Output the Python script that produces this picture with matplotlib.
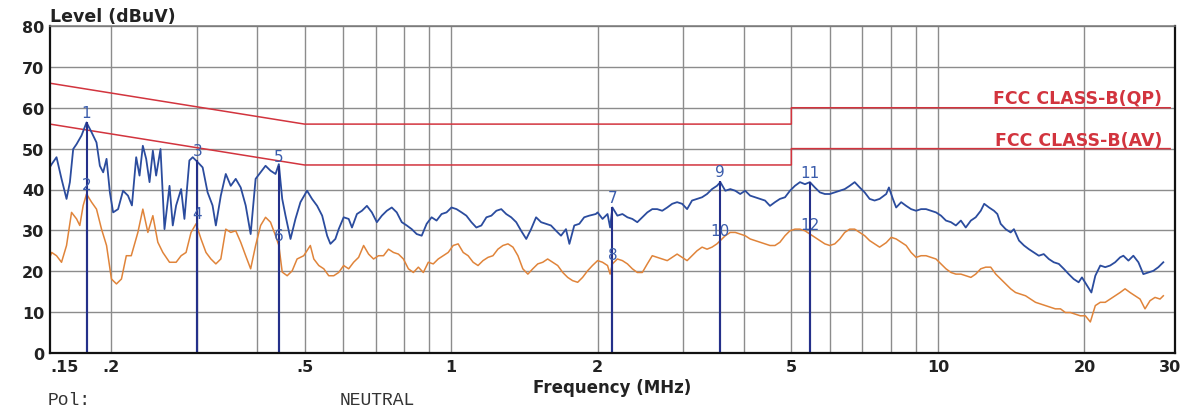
import matplotlib

matplotlib.use("Agg")
import matplotlib.pyplot as plt

# Peak-scan trace (blue)
BLUE_MHZ = [
    0.150, 0.1512, 0.1547, 0.1584, 0.1622, 0.1648, 0.1674, 0.1701, 0.1741, 0.1783,
    0.1826, 0.1869, 0.1899, 0.1929, 0.1960, 0.1991, 0.2022, 0.2070, 0.2119, 0.2169,
    0.2210, 0.2255, 0.2291, 0.2327, 0.2364, 0.2402, 0.2440, 0.2478, 0.2530, 0.2578,
    0.2640, 0.2681, 0.2724, 0.2789, 0.2833, 0.2900, 0.2946, 0.3016, 0.3088, 0.3161,
    0.3236, 0.3287, 0.3365, 0.3445, 0.3527, 0.3611, 0.3697, 0.3785, 0.3875, 0.3967,
    0.4062, 0.4158, 0.4257, 0.4359, 0.4428, 0.4499, 0.4570, 0.4679, 0.4790, 0.4904,
    0.5060, 0.5180,
    0.5307, 0.5435, 0.5564, 0.5651, 0.5785, 0.5877, 0.6017, 0.6161, 0.6258, 0.6406,
    0.6560, 0.6716, 0.6876, 0.7039, 0.7208, 0.7379, 0.7554, 0.7734, 0.7920, 0.8109,
    0.8302, 0.8499, 0.8703, 0.8909, 0.9120, 0.9337, 0.9561, 0.9788, 1.002, 1.026,
    1.051, 1.075, 1.101, 1.127, 1.154, 1.182, 1.210, 1.239, 1.268, 1.298,
    1.329, 1.361, 1.393, 1.427, 1.460, 1.495, 1.531, 1.567, 1.604, 1.643,
    1.682, 1.722, 1.750, 1.791, 1.834, 1.877, 1.922, 1.983,
    2.000, 2.047, 2.096, 2.122, 2.145, 2.196, 2.249, 2.303, 2.357, 2.413,
    2.471, 2.530, 2.590, 2.651, 2.715, 2.780, 2.846, 2.913, 2.983, 3.054,
    3.126, 3.200, 3.278, 3.356, 3.436, 3.517, 3.574, 3.659, 3.746, 3.835,
    3.926, 4.019, 4.115, 4.212, 4.313, 4.415, 4.520, 4.628, 4.738, 4.853,
    4.968, 5.086, 5.209, 5.333, 5.459, 5.589, 5.723, 5.859, 5.998, 6.141,
    6.288, 6.437, 6.590, 6.747, 6.909, 7.073, 7.241, 7.413, 7.591,
    7.833, 7.933, 8.083, 8.210, 8.407, 8.607, 8.810, 9.020, 9.237, 9.456,
    9.681, 9.911, 10.15, 10.39, 10.64, 10.89, 11.15, 11.41, 11.69, 11.96,
    12.25, 12.45, 12.74, 13.04, 13.25, 13.46, 13.78, 14.11, 14.33, 14.68,
    15.03, 15.38, 15.75, 16.12, 16.50, 16.90, 17.30, 17.72, 18.14, 18.57,
    19.01, 19.46, 19.77, 20.25, 20.67, 21.06, 21.56, 22.07, 22.59, 23.13,
    23.68, 24.05, 24.63, 25.21, 25.82, 26.43, 27.06, 27.71, 28.38, 29.05,
]
BLUE_DBUV = [
    45.5, 46.2, 47.9, 42.6, 37.7, 41.8, 49.9, 51.1, 53.2, 56.4,
    54.0, 51.5, 45.8, 44.2, 47.5, 39.3, 34.4, 35.2, 39.7, 38.5,
    36.1, 47.9, 43.4, 50.7, 47.5, 41.8, 49.5, 43.4, 49.9, 30.3,
    40.9, 31.2, 36.1, 40.1, 32.8, 47.1, 47.9, 46.7, 45.4, 39.3,
    36.1, 31.2, 38.5, 43.8, 40.9, 42.6, 40.5, 36.1, 29.1, 42.6,
    44.2, 45.8, 44.6, 43.8, 46.2, 37.7, 33.6, 27.9, 32.8, 36.9,
    39.7, 37.7,
    36.0, 33.6, 28.7, 26.7, 27.9, 30.3, 33.2, 32.8, 30.7, 34.0,
    34.8, 36.0, 34.4, 32.0, 33.6, 34.8, 35.6, 34.4, 32.0, 31.2,
    30.3, 29.1, 28.7, 31.6, 33.2, 32.4, 34.0, 34.4, 35.6, 35.2,
    34.4, 33.6, 32.0, 30.7, 31.2, 33.2, 33.6, 34.8, 35.2, 34.0,
    33.2, 32.0, 29.9, 27.9, 30.3, 33.2, 32.0, 31.6, 31.2, 29.9,
    28.7, 30.3, 26.7, 31.2, 31.6, 33.2, 33.6, 34.0,
    34.4, 32.8, 34.0, 30.7, 35.6, 33.6, 34.0, 33.2, 32.8, 32.0,
    33.2, 34.4, 35.2, 35.2, 34.8, 35.6, 36.5, 36.9, 36.5, 35.2,
    37.3, 37.7, 38.1, 38.9, 40.1, 40.9, 41.8, 39.7, 40.1, 39.7,
    38.9, 39.7, 38.5, 38.1, 37.7, 37.3, 36.0, 36.9, 37.7, 38.1,
    39.7, 40.9, 41.8, 41.3, 41.8, 40.5, 39.3, 38.9, 38.9, 39.3,
    39.7, 40.1, 40.9, 41.8, 40.5, 39.3, 37.7, 37.3, 37.7,
    38.9, 40.5, 37.7, 35.6, 36.9, 36.0, 35.2, 34.8, 35.2, 35.2,
    34.8, 34.4, 33.6, 32.4, 32.0, 31.2, 32.4, 30.7, 32.4, 33.2,
    34.8, 36.5, 35.6, 34.8, 34.0, 31.6, 30.3, 29.5, 30.3, 27.5,
    26.3, 25.4, 24.6, 23.8, 24.2, 23.0, 22.2, 21.8, 20.6, 19.3,
    18.1, 17.3, 18.5, 16.5, 14.8, 18.9, 21.4, 21.0, 21.4, 22.2,
    23.4, 23.8, 22.6, 23.8, 22.2, 19.3, 19.7, 20.1, 21.0, 22.2,
]

# Average trace (orange)
ORANGE_MHZ = [
    0.150, 0.1512, 0.1547, 0.1584, 0.1622, 0.1661, 0.1701, 0.1727, 0.1755, 0.1783,
    0.1826, 0.1869, 0.1914, 0.1960, 0.2006, 0.2054, 0.2103, 0.2152, 0.2203, 0.2273,
    0.2327, 0.2383, 0.2440, 0.2498, 0.2558, 0.2640, 0.2724, 0.2789, 0.2855, 0.2923,
    0.2993, 0.3064, 0.3137, 0.3211, 0.3287, 0.3365, 0.3445, 0.3527, 0.3611, 0.3697,
    0.3785, 0.3875, 0.3967, 0.4062, 0.4158, 0.4257, 0.4359, 0.4428, 0.4499, 0.4606,
    0.4716, 0.4827, 0.4981, 0.5139,
    0.5224, 0.5349, 0.5477, 0.5607, 0.5740, 0.5877, 0.6017, 0.6161, 0.6307, 0.6458,
    0.6612, 0.6769, 0.6930, 0.7095, 0.7264, 0.7437, 0.7614, 0.7795, 0.7982, 0.8172,
    0.8367, 0.8566, 0.8770, 0.8979, 0.9192, 0.9410, 0.9636, 0.9865, 1.010, 1.034,
    1.059, 1.084, 1.110, 1.136, 1.163, 1.191, 1.219, 1.248, 1.278, 1.309,
    1.340, 1.372, 1.404, 1.438, 1.472, 1.507, 1.543, 1.579, 1.617, 1.656,
    1.696, 1.736, 1.777, 1.820, 1.863, 1.907, 1.952,
    2.000, 2.047, 2.096, 2.122, 2.145, 2.196, 2.249, 2.303, 2.357, 2.413,
    2.471, 2.530, 2.590, 2.651, 2.715, 2.780, 2.846, 2.913, 2.983, 3.054,
    3.126, 3.200, 3.278, 3.356, 3.436, 3.517, 3.574, 3.659, 3.746, 3.835,
    3.926, 4.019, 4.115, 4.212, 4.313, 4.415, 4.520, 4.628, 4.738, 4.853,
    4.968, 5.086, 5.209, 5.333, 5.459, 5.589, 5.723, 5.859, 5.998, 6.141,
    6.288, 6.437, 6.590, 6.747, 6.909, 7.073, 7.241, 7.413, 7.591,
    7.833, 8.020, 8.210, 8.407, 8.607, 8.810, 9.020, 9.237, 9.456, 9.681,
    9.911, 10.15, 10.39, 10.64, 10.89, 11.15, 11.41, 11.69, 11.96, 12.25,
    12.54, 12.84, 13.15, 13.46, 13.78, 14.11, 14.44, 14.79, 15.14, 15.50,
    15.87, 16.25, 16.64, 17.03, 17.43, 17.86, 18.28, 18.72, 19.16, 19.62,
    20.09, 20.57, 21.06, 21.56, 22.07, 22.59, 23.13, 23.68, 24.24, 24.82,
    25.41, 26.02, 26.64, 27.28, 27.93, 28.60, 29.05,
]
ORANGE_DBUV = [
    23.5, 24.6, 23.8, 22.2, 26.3, 34.4, 32.8, 31.2, 36.1, 38.9,
    36.9, 35.2, 30.3, 26.3, 18.1, 16.9, 18.1, 23.8, 23.8, 29.5,
    35.2, 29.5, 33.6, 27.1, 24.6, 22.2, 22.2, 23.8, 24.6, 29.5,
    31.6, 27.9, 24.6, 23.0, 21.8, 23.0, 30.3, 29.5, 29.9, 27.1,
    23.8, 20.6, 26.3, 31.2, 33.2, 32.0, 28.7, 26.3, 19.8, 18.9,
    20.1, 23.0, 23.8, 26.3,
    23.0, 21.4, 20.6, 18.9, 18.9, 19.7, 21.4, 20.6, 22.2, 23.4,
    26.3, 24.2, 23.0, 23.8, 23.8, 25.4, 24.6, 24.2, 23.0, 20.6,
    19.7, 21.0, 19.7, 22.2, 21.8, 23.0, 23.8, 24.6, 26.3, 26.7,
    24.6, 23.8, 22.2, 21.4, 22.6, 23.4, 23.8, 25.4, 26.3, 26.7,
    25.9, 23.8, 20.6, 19.3, 20.6, 21.8, 22.2, 23.0, 22.2, 21.4,
    19.7, 18.5, 17.7, 17.3, 18.5, 20.1, 21.4,
    22.6, 22.2, 21.4, 19.3, 21.8, 23.0, 22.6, 21.8, 20.6, 19.7,
    19.7, 21.8, 23.8, 23.4, 23.0, 22.6, 23.4, 24.2, 23.4, 22.6,
    23.8, 25.0, 25.9, 25.4, 25.9, 26.7, 27.5, 28.7, 29.5, 29.5,
    29.1, 28.7, 27.9, 27.5, 27.1, 26.7, 26.3, 26.3, 27.1, 28.7,
    29.9, 30.3, 30.3, 29.9, 29.1, 28.3, 27.5, 26.7, 26.3, 26.7,
    27.9, 29.5, 30.3, 30.3, 29.5, 28.7, 27.5, 26.7, 25.9,
    27.0, 28.3, 27.9, 27.1, 26.3, 24.6, 23.4, 23.8, 23.8, 23.4,
    23.0, 21.8, 20.6, 19.7, 19.3, 19.3, 18.9, 18.5, 19.3, 20.6,
    21.0, 21.0, 19.3, 18.1, 16.9, 15.7, 14.8, 14.4, 14.0, 13.2,
    12.4, 12.0, 11.6, 11.2, 10.8, 10.8, 9.9, 9.9, 9.5, 9.1,
    9.1, 7.6, 11.6, 12.4, 12.4, 13.2, 14.0, 14.8, 15.7, 14.8,
    14.0, 13.2, 10.8, 12.8, 13.6, 13.2, 14.0,
]

# FCC class B conducted limits
QP_MHZ = [0.15, 0.5, 5, 5, 30]
QP_DBUV = [66, 56, 56, 60, 60]
AV_MHZ = [0.15, 0.5, 5, 5, 30]
AV_DBUV = [56, 46, 46, 50, 50]

# Numbered markers
MARK_ID = ["1", "2", "3", "4", "5", "6", "7", "8", "9", "10", "11", "12"]
MARK_MHZ = [0.1783, 0.1783, 0.3010, 0.3010, 0.4428, 0.4428,
            2.145, 2.145, 3.574, 3.574, 5.459, 5.459]
MARK_DBUV = [56.4, 38.9, 47.1, 31.8, 45.8, 26.3,
             35.6, 21.8, 42.0, 27.6, 41.8, 29.0]

XTICKS = [0.15, 0.2, 0.5, 1, 2, 5, 10, 20, 30]
XTICK_LABELS = [".15", ".2", ".5", "1", "2", "5", "10", "20", "30"]
GRID_MHZ = [0.2, 0.3, 0.4, 0.5, 0.6, 0.7, 0.8, 0.9, 1, 2, 3, 4, 5, 6, 7, 8, 9, 10, 20]

RED = "#d2343e"
BLUE = "#2b4c9e"
ORANGE = "#e0843a"
NAVY = "#24308a"
MARK_TXT = "#3a5cab"
GRID = "#8c8c8c"

W, H = 1203, 410
fig = plt.figure(figsize=(W / 100, H / 100), dpi=100)
fig.patch.set_facecolor("white")
ax = fig.add_axes([50 / W, 56 / H, 1125 / W, 327 / H])

ax.set_xscale("log")
ax.set_xlim(0.15, 30.7)
ax.set_ylim(0, 80)

for f in GRID_MHZ:
    ax.axvline(f, color=GRID, lw=1.0, zorder=1)
for v in range(10, 81, 10):
    ax.axhline(v, color=GRID, lw=1.0, zorder=1)

ax.plot(QP_MHZ, QP_DBUV, color=RED, lw=1.1, zorder=3)
ax.plot(AV_MHZ, AV_DBUV, color=RED, lw=1.1, zorder=3)

ax.plot(ORANGE_MHZ, ORANGE_DBUV, color=ORANGE, lw=1.1, zorder=4)
ax.plot(BLUE_MHZ, BLUE_DBUV, color=BLUE, lw=1.3, zorder=5)

ax.vlines(MARK_MHZ, 0, MARK_DBUV, color=NAVY, lw=1.5, zorder=6)
for lab, f, v in zip(MARK_ID, MARK_MHZ, MARK_DBUV):
    ax.annotate(lab, (f, v), xytext=(0, 7), textcoords="offset points",
                ha="center", va="center", color=MARK_TXT, fontsize=11, zorder=7)

ax.text(28.9, 61.2, "FCC CLASS-B(QP)", color=RED, fontsize=12.5,
        fontweight="bold", ha="right", va="baseline", zorder=7)
ax.text(28.9, 51.0, "FCC CLASS-B(AV)", color=RED, fontsize=12.5,
        fontweight="bold", ha="right", va="baseline", zorder=7)

ax.set_xticks(XTICKS)
ax.set_xticklabels(XTICK_LABELS)
ax.minorticks_off()
ax.set_yticks(range(0, 81, 10))
ax.tick_params(axis="both", length=0, labelsize=11.5, colors="#222222")
ax.tick_params(axis="x", pad=4)
ax.tick_params(axis="y", pad=4)
for lbl in ax.get_xticklabels() + ax.get_yticklabels():
    lbl.set_fontweight("bold")
ax.get_xticklabels()[0].set_ha("left")

for side in ("left", "bottom", "right"):
    ax.spines[side].set_color("#111111")
    ax.spines[side].set_linewidth(1.6)
ax.spines["top"].set_color("#777777")
ax.spines["top"].set_linewidth(1.1)
for s in ax.spines.values():
    s.set_zorder(8)

fig.text(50 / W, 1 - 17 / H, "Level (dBuV)", fontsize=12.5, fontweight="bold",
         color="#222222", ha="left", va="center")
fig.text(612 / W, 1 - 388 / H, "Frequency (MHz)", fontsize=12, fontweight="bold",
         color="#222222", ha="center", va="center")
fig.text(48 / W, 1 - 401 / H, "Pol:", family="Liberation Mono", fontsize=13,
         color="#333333", ha="left", va="center")
fig.text(340 / W, 1 - 401 / H, "NEUTRAL", family="Liberation Mono", fontsize=13,
         color="#333333", ha="left", va="center")

fig.savefig("out.png", dpi=100, facecolor="white")
